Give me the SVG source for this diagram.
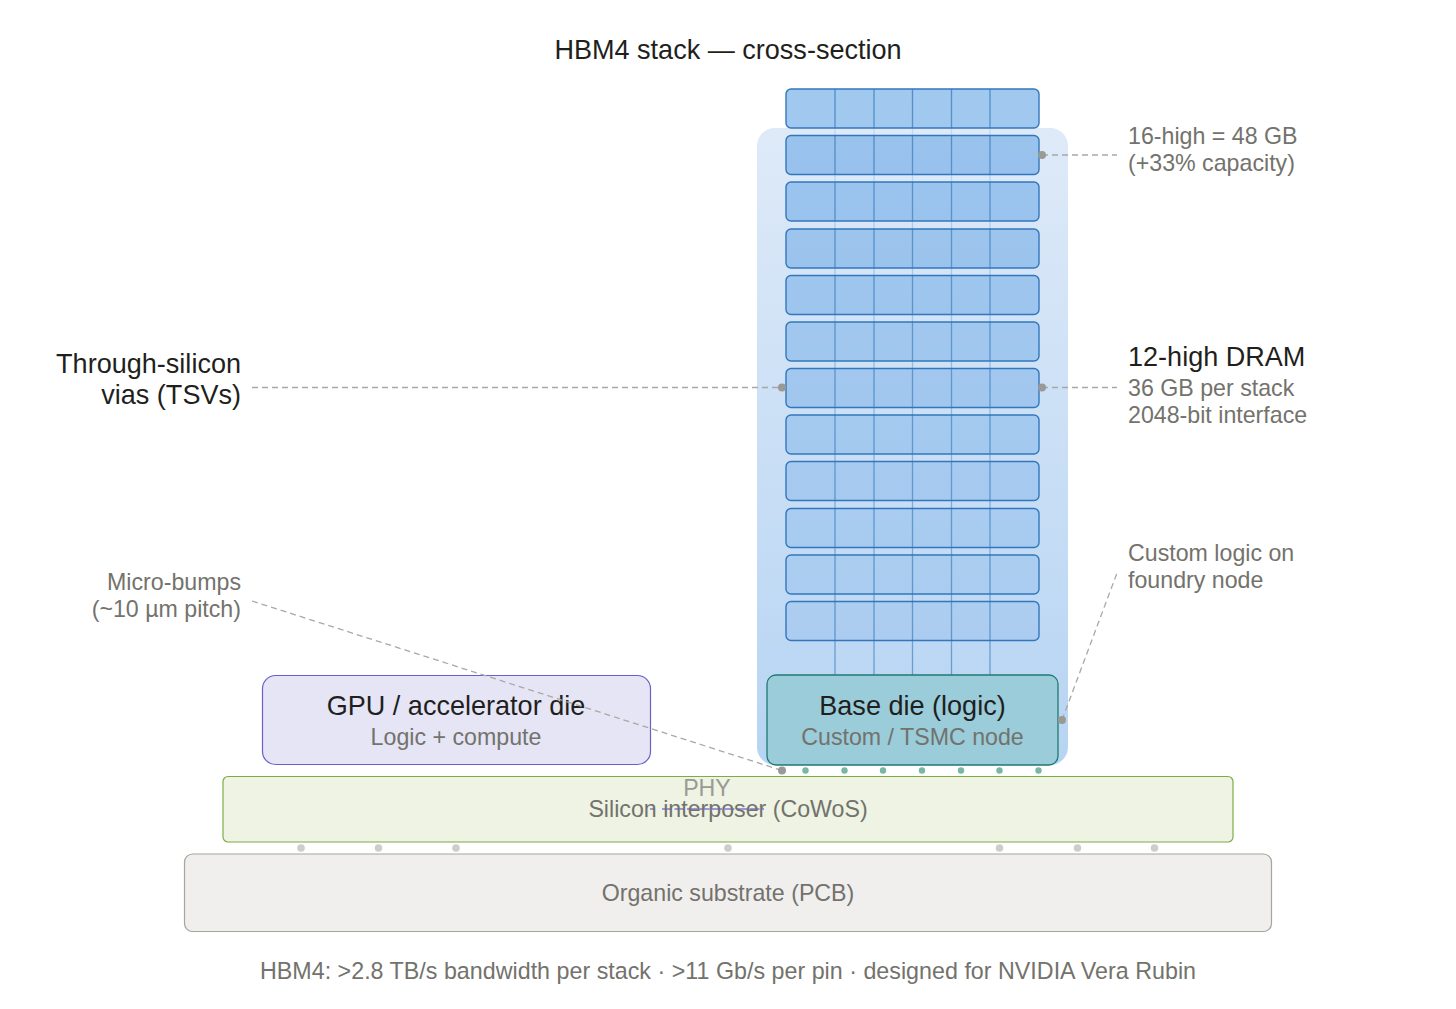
<svg xmlns="http://www.w3.org/2000/svg" width="1456" height="1009" viewBox="0 0 1456 1009">
<style>
text{font-family:"Liberation Sans",Arial,sans-serif}
.t{fill:#1f1f1d}.s{fill:#73726c}
.c{text-anchor:middle}.e{text-anchor:end}
.h{font-size:27.05px}.m{font-size:23.2px}
.f{font-size:23.25px}
.die{fill:#378add;stroke:#3277bd;stroke-width:1.4}
.lead{fill:none;stroke:#a8a8a4;stroke-width:1.3;stroke-dasharray:6 4}
.dot{fill:#999996}.mb{fill:#79b6a4}.bb{fill:#cdcdc9}
</style>
<defs>
<linearGradient id="sg" x1="0" y1="0" x2="0" y2="1"><stop offset="0" stop-color="#deeaf8"/><stop offset="1" stop-color="#b6d4f3"/></linearGradient>
<linearGradient id="v1" gradientUnits="userSpaceOnUse" x1="0" y1="89" x2="0" y2="675"><stop offset="0" stop-color="#2d73b8" stop-opacity=".12"/><stop offset="1" stop-color="#2d73b8" stop-opacity=".6"/></linearGradient>
<linearGradient id="v2" gradientUnits="userSpaceOnUse" x1="0" y1="89" x2="0" y2="641"><stop offset="0" stop-color="#2d73b8" stop-opacity=".62"/><stop offset="1" stop-color="#2d73b8" stop-opacity=".08"/></linearGradient>
</defs>
<rect width="1456" height="1009" fill="#fff"/>
<text class="t c h" x="728" y="58.500">HBM4 stack — cross-section</text>
<g id="hbm-stack-envelope"><rect x="757" y="128" width="311" height="637" rx="18" fill="url(#sg)"/></g>
<g id="dram-stack">
<rect class="die" fill-opacity=".47" x="786" y="89" width="253" height="39" rx="5"/>
<rect class="die" fill-opacity=".41" x="786" y="135.500" width="253" height="39" rx="5"/>
<rect class="die" fill-opacity=".39" x="786" y="182" width="253" height="39" rx="5"/>
<rect class="die" fill-opacity=".37" x="786" y="229" width="253" height="39" rx="5"/>
<rect class="die" fill-opacity=".34" x="786" y="275.500" width="253" height="39" rx="5"/>
<rect class="die" fill-opacity=".31" x="786" y="322" width="253" height="39" rx="5"/>
<rect class="die" fill-opacity=".29" x="786" y="368.500" width="253" height="39" rx="5"/>
<rect class="die" fill-opacity=".26" x="786" y="415" width="253" height="39" rx="5"/>
<rect class="die" fill-opacity=".23" x="786" y="461.500" width="253" height="39" rx="5"/>
<rect class="die" fill-opacity=".2" x="786" y="508.500" width="253" height="39" rx="5"/>
<rect class="die" fill-opacity=".17" x="786" y="555" width="253" height="39" rx="5"/>
<rect class="die" fill-opacity=".14" x="786" y="601.500" width="253" height="39" rx="5"/>
<path stroke="url(#v1)" stroke-width="1.3" fill="none" d="M835 89V675M874 89V675M912.500 89V675M951.500 89V675M990 89V675"/>
<path stroke="url(#v2)" stroke-width="1.3" fill="none" stroke-dasharray="39 7.500" d="M835 89V641M874 89V641M912.500 89V641M951.500 89V641M990 89V641"/>
</g>
<g id="base-die">
<rect x="767" y="675" width="291" height="90" rx="9" fill="#9accda" stroke="#1f7a70" stroke-width="1.3"/>
<text class="t c h" x="912.500" y="714.500">Base die (logic)</text>
<text class="s c m" x="912.500" y="745">Custom / TSMC node</text>
</g>
<g id="gpu-die">
<rect x="262.500" y="675.500" width="388" height="89" rx="13" fill="#e6e5f6" stroke="#6a5fc8" stroke-width="1.2"/>
<text class="t c h" x="456" y="714.500">GPU / accelerator die</text>
<text class="s c m" x="456" y="745">Logic + compute</text>
</g>
<g id="interposer">
<rect x="223" y="776.500" width="1010" height="65.500" rx="5" fill="#eef3e3" stroke="#7cad45" stroke-width="1.2"/>
<line x1="650" y1="809" x2="764" y2="809" stroke="#7f77dd" stroke-width="1.6" stroke-dasharray="5 7 10 2.500 10 2.500 10 2.500 10 2.500 10 2.500 10 2.500 10 2.500 10 2.500 10"/>
<text class="s c m" x="728" y="817">Silicon interposer (CoWoS)</text>
</g>
<g id="phy">
<text class="c m" x="707" y="796" fill="#9a9a94">PHY</text>
</g>
<g id="substrate">
<rect x="184.500" y="854" width="1087" height="77.500" rx="8" fill="#f0efed" stroke="#a5a59f" stroke-width="1.2"/>
<text class="s c m" x="728" y="901">Organic substrate (PCB)</text>
</g>
<g id="micro-bump-dots">
<circle class="mb" cx="805.500" cy="770.500" r="3.200"/><circle class="mb" cx="844.500" cy="770.500" r="3.200"/><circle class="mb" cx="883" cy="770.500" r="3.200"/><circle class="mb" cx="922" cy="770.500" r="3.200"/><circle class="mb" cx="961" cy="770.500" r="3.200"/><circle class="mb" cx="999.500" cy="770.500" r="3.200"/><circle class="mb" cx="1038.500" cy="770.500" r="3.200"/>
</g>
<g id="substrate-bumps">
<circle class="bb" cx="301" cy="848" r="3.800"/><circle class="bb" cx="378.500" cy="848" r="3.800"/><circle class="bb" cx="456" cy="848" r="3.800"/><circle class="bb" cx="728" cy="848" r="3.800"/><circle class="bb" cx="999.500" cy="848" r="3.800"/><circle class="bb" cx="1077.500" cy="848" r="3.800"/><circle class="bb" cx="1154.500" cy="848" r="3.800"/>
</g>
<g id="connectors">
<path class="lead" d="M1042 155H1117"/>
<path class="lead" d="M1042 387.500H1117"/>
<path class="lead" d="M252 387.500H782"/>
<path class="lead" d="M252 601L782 770.500"/>
<path class="lead" d="M1062 720L1117 573"/>
<circle class="dot" cx="1042" cy="155" r="4"/>
<circle class="dot" cx="1042" cy="387.500" r="4"/>
<circle class="dot" cx="782" cy="387.500" r="4"/>
<circle class="dot" cx="782" cy="770.500" r="4"/>
<circle class="dot" cx="1062" cy="720" r="4"/>
</g>
<g id="labels">
<text class="s m" x="1128" y="144">16-high = 48 GB</text>
<text class="s m" x="1128" y="171">(+33% capacity)</text>
<text class="t h" x="1128" y="365.500">12-high DRAM</text>
<text class="s m" x="1128" y="396">36 GB per stack</text>
<text class="s m" x="1128" y="423">2048-bit interface</text>
<text class="s m" x="1128" y="561">Custom logic on</text>
<text class="s m" x="1128" y="588">foundry node</text>
<text class="t e h" x="241" y="372.500">Through-silicon</text>
<text class="t e h" x="241" y="403.500">vias (TSVs)</text>
<text class="s e m" x="241" y="590">Micro-bumps</text>
<text class="s e m" x="241" y="617">(~10 µm pitch)</text>
<text class="s c f" x="728" y="979" textLength="936" lengthAdjust="spacing">HBM4: &gt;2.8 TB/s bandwidth per stack · &gt;11 Gb/s per pin · designed for NVIDIA Vera Rubin</text>
</g>
</svg>
